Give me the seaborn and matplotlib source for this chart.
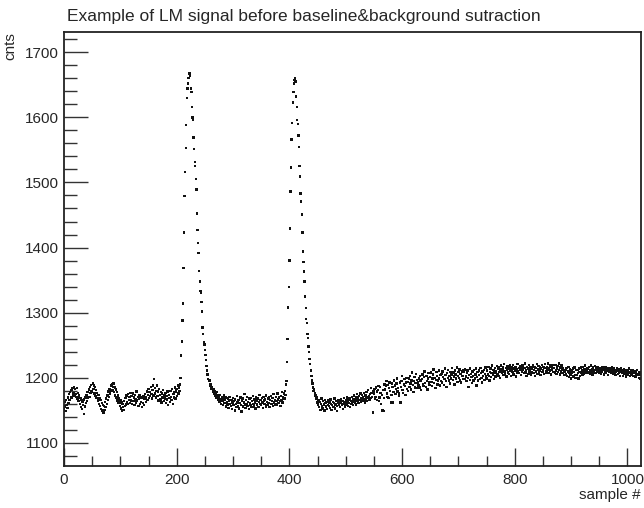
import numpy as np
import pandas as pd
import matplotlib
matplotlib.use("Agg")
import matplotlib.pyplot as plt
import seaborn as sns
from matplotlib.ticker import MultipleLocator

# ---- data (counts per sample) ----
base_a_start = 0
base_a = [
    1152,1163,1156,1149,1166,1158,1154,1170,1161,1175,1166,1178,1170,1181,1169,1184,1173,1176,1186,1172,
    1183,1175,1171,1184,1168,1177,1164,1173,1160,1169,1155,1166,1152,1163,1158,1144,1167,1156,1170,1161,
    1173,1164,1178,1169,1182,1171,1186,1177,1189,1180,1178,1191,1183,1188,1176,1186,1172,1181,1169,1177,
    1165,1174,1160,1169,1157,1166,1152,1161,1150,1158,1147,1157,1151,1163,1155,1168,1160,1173,1166,1179,
    1171,1183,1176,1188,1180,1190,1181,1186,1191,1178,1185,1173,1182,1170,1178,1165,1173,1161,1169,1157,
    1165,1153,1162,1150,1160,1155,1151,1164,1157,1169,1159,1173,1163,1160,1175,1166,1171,1161,1177,1165,
    1172,1160,1176,1164,1170,1158,1174,1167,1162,1179,1165,1171,1157,1168,1174,1160,1170,1163,1155,1169,
    1161,1172,1158,1168,1175,1163,1170,1179,1166,1174,1183,1169,1178,1172,1186,1175,1168,1181,1188,1173,
    1198,1176,1184,1170,1180,1188,1172,1179,1165,1183,1174,1167,1178,1162,1176,1170,1181,1164,1173,1168,
    1177,1161,1172,1167,1179,1158,1174,1169,1163,1180,1171,1166,1183,1160,1175,1170,1178,1185,1168,1179,
    1183,1172,1188,1176,1185,1180,1190,
]
peak1_rise_start = 207
peak1_rise = [1200,1234,1256,1288,1314,1369,1423,1479,1516,1553,1588,1630,1644,1652,1660,1660,1667,1663]
peak1_fall_start = 225
peak1_fall = [
    1644,1639,1616,1600,1596,1569,1551,1531,1525,1505,
    1489,1452,1427,1407,1392,1364,1348,1333,1330,1316,
    1302,1277,1267,1254,1251,1243,1235,1227,1218,1211,
    1205,1198,1195,1196,1188,1190,1185,1183,1186,1180,
    1178,1182,1176,1180,1172,
]
base_b_start = 270
base_b = [
    1175,1169,1178,1166,1173,1170,1163,1174,1167,1160,1171,1164,1158,1168,1173,1161,1166,1156,1170,1163,
    1159,1168,1154,1165,1171,1160,1157,1166,1152,1162,1169,1158,1164,1150,1167,1160,1155,1172,1162,1157,
    1166,1153,1161,1170,1158,1148,1164,1168,1156,1162,1175,1159,1154,1166,1160,1171,1157,1163,1152,1168,
    1161,1158,1169,1155,1164,1172,1160,1156,1167,1162,1153,1170,1165,1159,1168,1155,1163,1174,1160,1166,
    1158,1169,1162,1154,1171,1165,1160,1167,1156,1173,1163,1158,1168,1161,1170,1155,1166,1172,1160,1164,
    1169,1157,1175,1162,1166,1159,1171,1164,1158,1176,1167,1161,1170,1164,1157,1172,1166,1178,1162,1170,
    1176,1168,1180,1174,1190,
]
peak2_rise_start = 395
peak2_rise = [1195,1224,1260,1308,1339,1380,1429,1486,1523,1566,1591,1623,1639,1652,1657,1660,1655]
peak2_fall_start = 412
peak2_fall = [
    1632,1616,1596,1590,1572,1554,1525,1509,1483,1471,
    1451,1423,1394,1378,1363,1348,1325,1307,1290,1284,
    1267,1261,1248,1240,1229,1221,1211,1203,1196,1191,
    1185,1180,1183,1176,1172,1174,1168,1171,
]
base_c_start = 450
base_c = [
    1162,1158,1166,1155,1163,1151,1160,1168,1157,1153,1164,1159,1150,1166,1161,1156,1163,1152,1158,1165,
    1157,1162,1154,1167,1160,1151,1158,1163,1155,1161,1168,1153,1159,1164,1157,1149,1162,1166,1158,1163,
    1155,1161,1167,1158,1164,1152,1160,1169,1162,1156,1165,1159,1170,1163,1157,1166,1161,1168,1155,1164,
    1160,1171,1163,1158,1167,1173,1162,1166,1159,1170,1175,1164,1168,1161,1172,1166,1176,1163,1169,1174,
    1165,1171,1177,1167,1162,1173,1168,1178,1164,1170,1181,1172,1166,1175,1169,1184,1177,1171,1147,1180,
]
rise_d_start = 550
rise_d = [
    1176,1183,1168,1171,1185,1179,1166,1181,1187,1164,1170,1186,1177,1160,1174,1150,1181,1149,1169,1190,
    1182,1188,1195,1176,1171,1189,1169,1184,1193,1180,1162,1174,1191,1186,1162,1178,1196,1188,1175,1183,
    1191,1199,1179,1184,1173,1176,1193,1162,1186,1195,1203,1181,1177,1190,1198,1187,1174,1193,1200,1183,
    1180,1194,1199,1186,1203,1191,1182,1196,1208,1189,1178,1195,1201,1185,1192,1206,1197,1184,1193,1188,
    1199,1185,1203,1196,1181,1198,1205,1190,1187,1201,1210,1192,1186,1203,1195,1182,1199,1207,1193,1189,
    1201,1208,1194,1187,1199,1205,1213,1192,1200,1184,1197,1209,1203,1190,1196,1211,1199,1188,1204,1195,
    1206,1193,1210,1201,1189,1198,1214,1204,1195,1186,1207,1200,1212,1196,1203,1191,1209,1199,1205,1215,
    1197,1208,1202,1190,1211,1205,1199,1216,1194,1203,1209,1200,1213,1196,1206,1193,1210,1203,1198,1212,
]
plateau_e_start = 710
plateau_e = [
    1209,1198,1213,1202,1195,1207,1211,1200,1186,1204,1214,1197,1206,1201,1192,1210,1203,1196,1212,1199,
    1205,1214,1188,1201,1209,1196,1211,1204,1198,1215,1207,1200,1193,1210,1203,1212,1197,1206,1216,1202,
    1199,1211,1205,1217,1203,1196,1209,1214,1201,1207,1219,1204,1212,1198,1208,1215,1202,1210,1218,1205,
    1214,1203,1217,1209,1200,1213,1219,1207,1211,1216,1204,1221,1210,1206,1215,1202,1212,1218,1208,1214,
    1206,1219,1211,1203,1216,1213,1209,1220,1205,1214,1211,1217,1202,1213,1208,1221,1210,1215,1207,1218,
    1212,1204,1216,1209,1219,1213,1207,1215,1222,1208,1211,1203,1217,1214,1206,1220,1210,1213,1216,1205,
    1214,1209,1219,1207,1212,1217,1203,1215,1210,1221,1206,1213,1218,1208,1211,1216,1204,1214,1220,1209,
    1212,1217,1206,1215,1221,1210,1208,1216,1213,1222,1207,1214,1219,1211,1205,1217,1213,1220,1209,1215,
    1215,1208,1220,1211,1206,1214,1218,1209,1222,1212,1205,1216,1210,1219,1213,1207,1215,1211,1204,1209,
    1212,1206,1215,1203,1210,1217,1201,1208,1213,1205,1199,1211,1207,1214,1202,1209,1216,1204,1200,1212,
    1204,1212,1207,1199,1214,1209,1203,1216,1208,1211,1205,1217,1210,1206,1213,1219,1208,1212,1215,1207,
    1214,1209,1217,1206,1212,1219,1210,1213,1205,1216,1211,1208,1218,1212,1207,1214,1210,1216,1209,1213,
    1208,1215,1211,1206,1214,1209,1217,1212,1205,1213,1210,1216,1207,1211,1214,1204,1212,1209,1215,1210,
    1213,1207,1211,1216,1206,1210,1214,1208,1212,1204,1209,1215,1211,1206,1213,1208,1212,1203,1210,1214,
    1207,1211,1203,1209,1213,1206,1210,1202,1212,1208,1205,1211,1207,1214,1203,1209,1206,1212,1204,1208,
    1211,1203,1207,1210,1202,1208,1205,1212,1204,1206,1200,1209,1205,1199,
]

segments = [
    (base_a_start, base_a), (peak1_rise_start, peak1_rise), (peak1_fall_start, peak1_fall),
    (base_b_start, base_b), (peak2_rise_start, peak2_rise), (peak2_fall_start, peak2_fall),
    (base_c_start, base_c), (rise_d_start, rise_d), (plateau_e_start, plateau_e),
]
xs, ys = [], []
for start, vals in segments:
    xs.extend(range(start, start + len(vals)))
    ys.extend(vals)
df = pd.DataFrame({"sample": xs, "cnts": ys})

title_text = "Example of LM signal before baseline&background sutraction"
x_label = "sample #"
y_label = "cnts"

# ---- drawing ----
sns.set_style("ticks")
plt.rcParams["font.family"] = ["Liberation Sans", "DejaVu Sans"]

fig = plt.figure(figsize=(6.44, 5.08), dpi=100)
ax = fig.add_axes([64 / 644, 42 / 508, 577 / 644, 434 / 508])

sns.scatterplot(data=df, x="sample", y="cnts", ax=ax, marker="s", s=3.0,
                color="#111111", linewidth=0, edgecolor="none")

ax.set_xlim(0, 1024)
ax.set_ylim(1064.6, 1731)
ax.xaxis.set_major_locator(MultipleLocator(200))
ax.xaxis.set_minor_locator(MultipleLocator(50))
ax.yaxis.set_major_locator(MultipleLocator(100))
ax.yaxis.set_minor_locator(MultipleLocator(20))
ax.tick_params(axis="x", which="major", direction="in", length=13, width=1, labelsize=11, pad=5, color="#333333")
ax.tick_params(axis="x", which="minor", direction="in", length=7, width=1, color="#333333")
ax.tick_params(axis="y", which="major", direction="in", length=17, width=1, labelsize=11, pad=4, color="#333333")
ax.tick_params(axis="y", which="minor", direction="in", length=9, width=1, color="#333333")
for sp in ax.spines.values():
    sp.set_linewidth(1.3)
    sp.set_color("#222222")

ax.set_xlabel(x_label, loc="right", fontsize=11, labelpad=1)
ax.set_ylabel(y_label, loc="top", fontsize=11, labelpad=5)
fig.text(67 / 644, 1 - 16 / 508, title_text, fontsize=12.5, ha="left", va="center")

fig.savefig("out.png", dpi=100)
